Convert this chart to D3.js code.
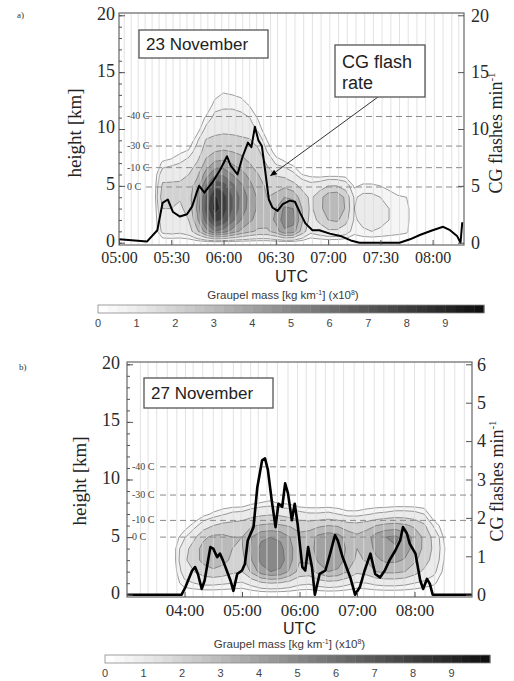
<!DOCTYPE html>
<html>
<head>
<meta charset="utf-8">
<script src="https://cdn.jsdelivr.net/npm/d3@7"></script>
<style>
body { margin: 0; background: #fff; }
svg { display: block; }
</style>
</head>
<body>
<div id="fig"></div>
<script>
// ---------- data ----------
const panelLabels = ["a)", "b)"];
const dayLabels = ["23 November", "27 November"];

const xTicksA = ["05:00", "05:30", "06:00", "06:30", "07:00", "07:30", "08:00"];
const xTicksB = ["04:00", "05:00", "06:00", "07:00", "08:00"];
const yTicks = [0, 5, 10, 15, 20];
const rightTicksA = [0, 5, 10, 15, 20];
const rightTicksB = [0, 1, 2, 3, 4, 5, 6];
const cbTicks = [0, 1, 2, 3, 4, 5, 6, 7, 8, 9];

// isotherms (height in km)
const isoNames = ["-40 C", "-30 C", "-10 C", "0 C"];
const isoHeightsA = [11.1, 8.5, 6.6, 4.9];
const isoHeightsB = [11.1, 8.65, 6.45, 5.0];

// radar scan times (thin vertical lines)
const scanTimesA = ["05:03", "05:07", "05:11", "05:15", "05:19", "05:23", "05:27", "05:31", "05:35", "05:39",
  "05:43", "05:47", "05:51", "05:55", "05:59", "06:03", "06:07", "06:11", "06:15", "06:19", "06:23", "06:27",
  "06:31", "06:36", "06:41", "06:46", "06:51", "06:56", "07:01", "07:06", "07:11", "07:16", "07:21", "07:26",
  "07:31", "07:36", "07:41", "07:46", "07:51", "07:56", "08:01", "08:06", "08:11", "08:15"];
const scanTimesB = ["03:14", "03:22", "03:31", "03:42", "03:52", "04:01", "04:09", "04:19", "04:30", "04:39",
  "04:51", "04:59", "05:09", "05:17", "05:26", "05:37", "05:48", "05:58", "06:07", "06:17", "06:27", "06:36",
  "06:46", "06:57", "07:07", "07:18", "07:28", "07:39", "07:49", "08:00", "08:11", "08:21", "08:31", "08:42", "08:52"];

// CG flash rate (flashes per minute)
const cgTimesA = ["05:00", "05:09", "05:16", "05:22", "05:25", "05:28", "05:31", "05:35", "05:39", "05:42",
  "05:45", "05:46", "05:49", "05:54", "05:58", "06:02", "06:04", "06:08", "06:11", "06:14", "06:16", "06:18",
  "06:20", "06:22", "06:24", "06:26", "06:28", "06:31", "06:34", "06:38", "06:41", "06:44", "06:47", "06:51",
  "06:55", "07:01", "07:07", "07:13", "07:18", "07:32", "07:41", "07:47", "07:53", "08:00", "08:06", "08:10",
  "08:14", "08:16", "08:17"];
const cgRateA = [0.3, 0.2, 0.1, 1.1, 3.5, 3.8, 2.7, 2.3, 2.5, 3.2, 4.6, 5.0, 4.4, 5.4, 6.4, 7.6, 6.8, 6.0, 7.6,
  8.8, 8.4, 10.2, 9.0, 8.5, 6.2, 3.8, 3.1, 2.8, 3.4, 3.7, 3.6, 2.6, 1.7, 1.1, 1.1, 0.8, 0.6, 0.2, 0, 0, 0, 0.3,
  0.7, 1.1, 1.4, 1.1, 0.6, 0, 1.8];

const cgTimesB = ["03:00", "03:57", "04:01", "04:08", "04:11", "04:14", "04:18", "04:21", "04:27", "04:30",
  "04:34", "04:37", "04:40", "04:48", "04:51", "04:55", "05:00", "05:03", "05:06", "05:12", "05:16", "05:21",
  "05:24", "05:27", "05:31", "05:35", "05:38", "05:42", "05:45", "05:48", "05:52", "05:55", "05:58", "06:03",
  "06:06", "06:09", "06:13", "06:16", "06:21", "06:27", "06:32", "06:37", "06:40", "06:45", "06:53", "06:58",
  "07:03", "07:08", "07:14", "07:19", "07:24", "07:29", "07:34", "07:40", "07:45", "07:48", "07:52", "07:55",
  "08:01", "08:06", "08:09", "08:13", "08:16", "08:19", "09:00"];
const cgRateB = [0, 0, 0.2, 0.63, 0.72, 0.54, 0.15, 0.37, 1.24, 1.2, 0.98, 1.07, 0.9, 0.37, 0.1, 0.54, 0.63,
  0.8, 1.41, 1.76, 2.8, 3.5, 3.55, 3.25, 2.46, 1.76, 2.37, 2.29, 2.9, 2.64, 1.94, 2.37, 1.85, 0.72, 0.63, 1.24,
  0.72, 0, 0.54, 0.63, 1.07, 1.55, 1.41, 0.98, 0.45, 0, 0.2, 0.63, 1.07, 0.54, 0.45, 0.63, 0.9, 1.15, 1.41,
  1.76, 1.6, 1.33, 1.07, 0.37, 0.15, 0.41, 0.28, 0, 0];

// graupel mass grid (x10^8 kg/km), one row per height, one column per grid time
const gridTimesA = ["05:20", "05:25", "05:30", "05:35", "05:40", "05:45", "05:50", "05:55", "06:00", "06:05",
  "06:10", "06:15", "06:20", "06:25", "06:30", "06:35", "06:40", "06:45", "06:50", "06:55", "07:00", "07:05",
  "07:10", "07:15", "07:20", "07:25", "07:30", "07:35", "07:40", "07:45", "07:50"];
const gridHeightsA = [0, 1, 2, 3, 4, 5, 6, 7, 8, 9, 10, 11, 12, 13, 14];
const graupelA = [
  [0, 0, 0, 0, 0, 0, 0, 0, 0, 0, 0, 0, 0, 0, 0, 0, 0, 0, 0, 0, 0, 0, 0, 0, 0, 0, 0, 0, 0, 0, 0],
  [0, 1.2, 1.3, 1.2, 1.5, 2.8, 4.5, 6.0, 5.5, 4.6, 3.8, 3.2, 2.8, 2.8, 3.5, 4.8, 4.5, 2.6, 1.2, 1.5, 1.8, 1.8, 1.4, 0.7, 0.9, 1.0, 0.9, 0.8, 0.7, 0.6, 0],
  [0, 1.5, 1.6, 1.5, 2.0, 3.8, 6.5, 8.5, 7.8, 6.3, 5.0, 4.2, 3.6, 3.5, 4.2, 5.6, 5.4, 3.2, 1.6, 2.2, 3.0, 3.2, 2.4, 0.9, 1.2, 1.3, 1.2, 1.0, 0.9, 0.7, 0],
  [0, 2.0, 2.0, 1.8, 2.4, 4.2, 7.5, 9.5, 8.6, 7.0, 5.6, 4.6, 3.8, 3.3, 4.0, 5.2, 5.0, 3.0, 1.8, 2.6, 3.7, 3.9, 2.9, 1.0, 1.3, 1.3, 1.2, 1.0, 0.9, 0.7, 0],
  [0, 2.6, 2.4, 2.1, 2.6, 4.0, 7.2, 9.2, 8.5, 7.0, 5.7, 4.7, 3.8, 3.0, 3.3, 4.0, 3.7, 2.5, 1.8, 2.6, 3.6, 3.8, 2.8, 0.9, 1.2, 1.2, 1.0, 0.8, 0.6, 0.5, 0],
  [0, 2.2, 2.2, 2.2, 2.5, 3.5, 6.0, 7.8, 7.5, 6.3, 5.2, 4.3, 3.4, 2.8, 2.6, 2.8, 2.4, 1.7, 1.3, 1.5, 2.0, 2.0, 1.5, 0.4, 0.6, 0.6, 0.5, 0.3, 0, 0, 0],
  [0, 1.5, 1.6, 1.7, 2.0, 2.8, 4.5, 5.8, 5.8, 5.0, 4.4, 3.7, 3.0, 2.4, 1.9, 1.7, 1.2, 0.5, 0.3, 0.2, 0.2, 0.2, 0.2, 0, 0, 0, 0, 0, 0, 0, 0],
  [0, 0.6, 0.8, 1.0, 1.4, 2.1, 3.3, 4.2, 4.3, 3.9, 3.5, 3.0, 2.5, 1.9, 0.9, 0.6, 0.3, 0, 0, 0, 0, 0, 0, 0, 0, 0, 0, 0, 0, 0, 0],
  [0, 0, 0, 0.4, 0.6, 1.4, 2.6, 3.0, 3.1, 3.0, 2.8, 2.5, 2.2, 1.0, 0.2, 0, 0, 0, 0, 0, 0, 0, 0, 0, 0, 0, 0, 0, 0, 0, 0],
  [0, 0, 0, 0, 0, 0.9, 2.1, 2.3, 2.4, 2.3, 2.2, 2.1, 1.5, 0.5, 0, 0, 0, 0, 0, 0, 0, 0, 0, 0, 0, 0, 0, 0, 0, 0, 0],
  [0, 0, 0, 0, 0, 0.2, 1.2, 1.6, 1.7, 1.7, 1.6, 1.4, 0.8, 0, 0, 0, 0, 0, 0, 0, 0, 0, 0, 0, 0, 0, 0, 0, 0, 0, 0],
  [0, 0, 0, 0, 0, 0, 0.6, 1.2, 1.3, 1.3, 1.2, 1.0, 0.4, 0, 0, 0, 0, 0, 0, 0, 0, 0, 0, 0, 0, 0, 0, 0, 0, 0, 0],
  [0, 0, 0, 0, 0, 0, 0, 0.8, 0.9, 0.9, 0.8, 0.5, 0, 0, 0, 0, 0, 0, 0, 0, 0, 0, 0, 0, 0, 0, 0, 0, 0, 0, 0],
  [0, 0, 0, 0, 0, 0, 0, 0.3, 0.6, 0.5, 0.4, 0, 0, 0, 0, 0, 0, 0, 0, 0, 0, 0, 0, 0, 0, 0, 0, 0, 0, 0, 0],
  [0, 0, 0, 0, 0, 0, 0, 0, 0, 0, 0, 0, 0, 0, 0, 0, 0, 0, 0, 0, 0, 0, 0, 0, 0, 0, 0, 0, 0, 0, 0]
];

const gridTimesB = ["03:40", "03:50", "04:00", "04:10", "04:20", "04:30", "04:40", "04:50", "05:00", "05:10",
  "05:20", "05:30", "05:40", "05:50", "06:00", "06:10", "06:20", "06:30", "06:40", "06:50", "07:00", "07:10",
  "07:20", "07:30", "07:40", "07:50", "08:00", "08:10", "08:20", "08:30", "08:40"];
const gridHeightsB = [0, 1, 2, 3, 4, 5, 6, 7, 8, 9];
const graupelB = [
  [0, 0, 0, 0, 0, 0, 0, 0, 0, 0, 0, 0, 0, 0, 0, 0, 0, 0, 0, 0, 0, 0, 0, 0, 0, 0, 0, 0, 0, 0, 0],
  [0, 0.2, 0.8, 1.0, 1.2, 1.2, 1.1, 1.0, 0.9, 1.3, 1.8, 2.0, 1.9, 1.6, 1.2, 1.1, 1.4, 1.6, 1.5, 1.2, 0.9, 1.0, 1.2, 1.3, 1.3, 1.2, 1.0, 0.8, 0.6, 0.2, 0],
  [0, 0.3, 1.4, 2.0, 2.5, 2.8, 2.6, 2.2, 2.0, 3.2, 4.5, 5.0, 4.8, 3.8, 2.6, 2.5, 3.4, 4.0, 3.8, 3.0, 2.2, 2.4, 3.0, 3.2, 3.2, 3.0, 2.4, 1.8, 1.2, 0.4, 0],
  [0, 0.4, 1.8, 2.6, 3.3, 3.6, 3.3, 2.8, 2.6, 4.0, 5.3, 5.8, 5.5, 4.3, 3.1, 3.2, 4.2, 4.8, 4.6, 3.6, 2.8, 3.1, 3.8, 4.2, 4.2, 3.9, 3.2, 2.5, 1.6, 0.55, 0],
  [0, 0.4, 1.6, 2.5, 3.4, 3.6, 3.5, 3.0, 2.9, 4.2, 5.3, 5.6, 5.3, 4.3, 3.3, 3.5, 4.5, 5.0, 4.8, 3.8, 3.0, 3.4, 4.3, 4.8, 4.9, 4.5, 3.6, 2.8, 1.8, 0.6, 0],
  [0, 0.2, 0.9, 1.8, 2.8, 3.2, 3.2, 3.0, 3.0, 4.0, 4.8, 5.0, 4.8, 4.0, 3.3, 3.5, 4.3, 4.6, 4.4, 3.6, 3.2, 3.6, 4.5, 5.0, 5.2, 4.6, 3.7, 2.8, 1.7, 0.5, 0],
  [0, 0, 0.2, 0.7, 1.5, 2.0, 2.3, 2.4, 2.5, 2.9, 3.1, 3.2, 3.1, 2.9, 2.6, 2.6, 2.8, 3.0, 2.9, 2.5, 2.4, 2.6, 3.0, 3.3, 3.4, 3.2, 2.8, 2.2, 0.9, 0.2, 0],
  [0, 0, 0, 0, 0.3, 0.6, 0.9, 1.2, 1.3, 1.6, 1.8, 1.9, 1.8, 1.6, 1.3, 1.1, 1.1, 1.2, 1.0, 0.7, 0.7, 0.9, 1.1, 1.2, 1.4, 1.4, 1.3, 1.0, 0, 0, 0],
  [0, 0, 0, 0, 0, 0, 0, 0, 0, 0.3, 0.5, 0.6, 0.4, 0.3, 0, 0, 0, 0, 0, 0, 0, 0, 0, 0, 0, 0, 0, 0, 0, 0, 0],
  [0, 0, 0, 0, 0, 0, 0, 0, 0, 0, 0, 0, 0, 0, 0, 0, 0, 0, 0, 0, 0, 0, 0, 0, 0, 0, 0, 0, 0, 0, 0]
];

const contourLevels = [0.5, 1, 2, 3, 4, 5, 6, 7, 8, 9];

// ---------- drawing ----------
const serif = '"Liberation Serif","Times New Roman",serif';
const sans = '"Liberation Sans",Arial,sans-serif';
const parseT = d3.timeParse("%H:%M");
const fmtT = d3.timeFormat("%H:%M");
const grey = d3.scaleLinear().domain([0, 1, 10]).range(["#ffffff", "#ebebeb", "#0d0d0d"]);

const svg = d3.select("#fig").append("svg").attr("width", 514).attr("height", 681);

function drawContours(g, grid, times, heights, x, y) {
  let nx = times.length, ny = heights.length;
  let tms = times.map(t => parseT(t).getTime());
  let bands = d3.contours().size([nx, ny]).thresholds(contourLevels)(grid.flat());
  // contour coords: grid cell i sits at i+0.5
  let px = c => {
    let f = Math.max(0, Math.min(nx - 1, c - 0.5));
    let i = Math.min(nx - 2, Math.floor(f));
    return x(new Date(tms[i] + (f - i) * (tms[i + 1] - tms[i])));
  };
  let py = c => {
    let f = Math.max(0, Math.min(ny - 1, c - 0.5));
    let j = Math.min(ny - 2, Math.floor(f));
    return y(heights[j] + (f - j) * (heights[j + 1] - heights[j]));
  };
  let path = d3.geoPath(d3.geoTransform({ point(a, b) { this.stream.point(px(a), py(b)); } }));
  g.selectAll("path.band").data(bands).join("path")
    .attr("class", "band")
    .attr("d", path)
    .attr("fill", d => grey(d.value))
    .attr("stroke", "#5a5a5a")
    .attr("stroke-width", 0.6);
}

function styleAxis(sel, size, family) {
  sel.select(".domain").remove();
  sel.selectAll(".tick line").attr("stroke", "#555");
  sel.selectAll("text").attr("font-family", family).attr("font-size", size).attr("fill", "#2a2a2a");
}

function drawPanel(p) {
  let x = d3.scaleTime().domain(p.xDomain.map(parseT)).range([p.left, p.right]);
  let y = d3.scaleLinear().domain([-0.2, 20.2]).range([p.bottom, p.top]);
  let yR = d3.scaleLinear().domain([-p.rMax * 0.01, p.rMax * 1.01]).range([p.bottom, p.top]);
  let g = svg.append("g");

  svg.append("clipPath").attr("id", "clip" + p.id).append("rect")
    .attr("x", p.left).attr("y", p.top).attr("width", p.right - p.left).attr("height", p.bottom - p.top);
  let plot = g.append("g").attr("clip-path", "url(#clip" + p.id + ")");

  drawContours(plot, p.grid, p.gridTimes, p.gridHeights, x, y);

  plot.selectAll("line.scan").data(p.scans).join("line")
    .attr("class", "scan")
    .attr("x1", d => x(parseT(d))).attr("x2", d => x(parseT(d)))
    .attr("y1", p.top).attr("y2", p.bottom)
    .attr("stroke", "#dcdcdc").attr("stroke-width", 1).attr("opacity", 0.8);

  // isotherms
  plot.selectAll("line.iso").data(p.isoHeights).join("line")
    .attr("class", "iso")
    .attr("x1", p.isoStart).attr("x2", p.right)
    .attr("y1", d => y(d)).attr("y2", d => y(d))
    .attr("stroke", "#8a8a8a").attr("stroke-width", 1).attr("stroke-dasharray", "6,4");
  g.selectAll("text.iso").data(p.isoHeights).join("text")
    .attr("class", "iso")
    .attr("x", p.isoLabelX).attr("y", d => y(d) + 3)
    .attr("font-family", serif).attr("font-size", 10).attr("fill", "#444")
    .text((d, i) => isoNames[i]);

  // CG flash rate
  let cg = p.cgTimes.map((t, i) => [parseT(t), p.cgRate[i]]);
  plot.append("path").datum(cg)
    .attr("d", d3.line().x(d => x(d[0])).y(d => yR(d[1])))
    .attr("fill", "none").attr("stroke", "#000").attr("stroke-width", p.cgWidth)
    .attr("stroke-linejoin", "round");

  // frame
  g.append("rect").attr("x", p.left).attr("y", p.top)
    .attr("width", p.right - p.left).attr("height", p.bottom - p.top)
    .attr("fill", "none").attr("stroke", "#666").attr("stroke-width", 1.2);

  // axes
  g.append("g").attr("transform", "translate(" + p.left + ",0)")
    .call(d3.axisLeft(y).tickValues(d3.range(0, 21)).tickSize(-3).tickFormat(""))
    .call(styleAxis, 0, serif);
  g.append("g").attr("transform", "translate(" + p.left + ",0)")
    .call(d3.axisLeft(y).tickValues(yTicks).tickSize(-6).tickPadding(p.padL))
    .call(styleAxis, 18, serif)
    .call(a => a.selectAll("text").attr("dy", "0.22em"));
  g.append("g").attr("transform", "translate(" + p.right + ",0)")
    .call(d3.axisRight(yR).tickValues(p.rTicks).tickFormat(d3.format("d")).tickSize(-6).tickPadding(p.padR))
    .call(styleAxis, 18, serif);
  g.append("g").attr("transform", "translate(0," + p.bottom + ")")
    .call(d3.axisBottom(x).tickValues(p.xTicks.map(parseT)).tickFormat(fmtT).tickSize(-5).tickPadding(7))
    .call(styleAxis, p.xFont, serif);

  // axis titles
  g.append("text").attr("transform", "translate(" + p.yTitleX + "," + p.yTitleY + ") rotate(-90)")
    .attr("text-anchor", "middle").attr("font-family", serif).attr("font-size", 19).attr("fill", "#222")
    .text("height [km]");
  let rt = g.append("text").attr("transform", "translate(" + p.rTitleX + "," + p.yTitleY + ") rotate(-90)")
    .attr("text-anchor", "middle").attr("font-family", serif).attr("font-size", 18).attr("fill", "#222");
  rt.append("tspan").text("CG flashes min");
  rt.append("tspan").attr("font-size", 11).attr("dy", -7).text("-1");
  g.append("text").attr("x", (p.left + p.right) / 2).attr("y", p.utcY)
    .attr("text-anchor", "middle").attr("font-family", sans).attr("font-size", 16).attr("fill", "#222")
    .text("UTC");

  // panel letter
  g.append("text").attr("x", p.letterX).attr("y", p.letterY)
    .attr("font-family", serif).attr("font-size", 9).attr("fill", "#333").text(p.letter);

  // day box
  g.append("rect").attr("x", p.box[0]).attr("y", p.box[1]).attr("width", p.box[2]).attr("height", p.box[3])
    .attr("fill", "#fff").attr("stroke", "#555").attr("stroke-width", 1.3);
  g.append("text").attr("x", p.box[0] + 7).attr("y", p.box[1] + p.box[3] / 2 + 6)
    .attr("font-family", sans).attr("font-size", 17).attr("fill", "#222").text(p.day);

  return { x: x, y: y, g: g };
}

function drawColorbar(c) {
  let s = d3.scaleLinear().domain([0, 10]).range([c.x0, c.x1]);
  let g = svg.append("g");
  let t = g.append("text").attr("x", (c.x0 + c.x1) / 2 - 8).attr("y", c.titleY)
    .attr("text-anchor", "middle").attr("font-family", sans).attr("font-size", 11.5).attr("fill", "#3a3a3a");
  t.append("tspan").text("Graupel mass [kg km");
  t.append("tspan").attr("font-size", 7).attr("dy", -4).text("-1");
  t.append("tspan").attr("dy", 4).text("] (x10");
  t.append("tspan").attr("font-size", 7).attr("dy", -4).text("8");
  t.append("tspan").attr("dy", 4).text(")");
  let steps = d3.range(0, 10, 0.25);
  g.selectAll("rect.cb").data(steps).join("rect")
    .attr("class", "cb")
    .attr("x", d => s(d)).attr("width", s(0.25) - s(0) + 0.4)
    .attr("y", c.barY).attr("height", 8)
    .attr("fill", d => grey(d + 0.125));
  g.append("rect").attr("x", c.x0).attr("y", c.barY).attr("width", c.x1 - c.x0).attr("height", 8)
    .attr("fill", "none").attr("stroke", "#888").attr("stroke-width", 0.8);
  g.selectAll("text.cbl").data(cbTicks).join("text")
    .attr("class", "cbl")
    .attr("x", d => s(d)).attr("y", c.labelY)
    .attr("text-anchor", "middle").attr("font-family", sans).attr("font-size", 11).attr("fill", "#444")
    .text(d => d);
}

let pa = drawPanel({
  id: "a", letter: panelLabels[0], letterX: 17, letterY: 18, day: dayLabels[0],
  xDomain: ["05:00", "08:18"], left: 119, right: 464, top: 13, bottom: 245,
  rMax: 20, rTicks: rightTicksA, xTicks: xTicksA, xFont: 16, padL: 4, padR: 7,
  grid: graupelA, gridTimes: gridTimesA, gridHeights: gridHeightsA, scans: scanTimesA,
  isoHeights: isoHeightsA, isoStart: 146, isoLabelX: 127,
  cgTimes: cgTimesA, cgRate: cgRateA, cgWidth: 2,
  yTitleX: 81, yTitleY: 133, rTitleX: 502, utcY: 282,
  box: [139, 30, 129, 28]
});

let pb = drawPanel({
  id: "b", letter: panelLabels[1], letterX: 19, letterY: 370, day: dayLabels[1],
  xDomain: ["03:00", "09:00"], left: 127, right: 472, top: 362, bottom: 597,
  rMax: 6, rTicks: rightTicksB, xTicks: xTicksB, xFont: 17, padL: 7, padR: 5,
  grid: graupelB, gridTimes: gridTimesB, gridHeights: gridHeightsB, scans: scanTimesB,
  isoHeights: isoHeightsB, isoStart: 160, isoLabelX: 132,
  cgTimes: cgTimesB, cgRate: cgRateB, cgWidth: 2.6,
  yTitleX: 86, yTitleY: 481, rTitleX: 503, utcY: 634,
  box: [144, 378, 129, 30]
});

// "CG flash rate" callout in panel a
let target = [pa.x(parseT("06:27")), pa.y(5.9)];
svg.append("defs").append("marker").attr("id", "arrow").attr("viewBox", "0 0 10 10")
  .attr("refX", 9).attr("refY", 5).attr("markerWidth", 7).attr("markerHeight", 7)
  .attr("orient", "auto").append("path").attr("d", "M0,1 L10,5 L0,9 Z").attr("fill", "#000");
pa.g.append("line").attr("x1", 378).attr("y1", 97).attr("x2", target[0]).attr("y2", target[1])
  .attr("stroke", "#333").attr("stroke-width", 1).attr("marker-end", "url(#arrow)");
pa.g.append("rect").attr("x", 335).attr("y", 45).attr("width", 90).attr("height", 52)
  .attr("fill", "#fff").attr("stroke", "#555").attr("stroke-width", 1.3);
pa.g.append("text").attr("x", 342).attr("y", 68).attr("font-family", sans).attr("font-size", 18)
  .attr("fill", "#222").text("CG flash");
pa.g.append("text").attr("x", 342).attr("y", 89).attr("font-family", sans).attr("font-size", 18)
  .attr("fill", "#222").text("rate");

drawColorbar({ x0: 98, x1: 484, barY: 305, titleY: 299, labelY: 327 });
drawColorbar({ x0: 105, x1: 490, barY: 655, titleY: 648, labelY: 677 });
</script>
</body>
</html>
